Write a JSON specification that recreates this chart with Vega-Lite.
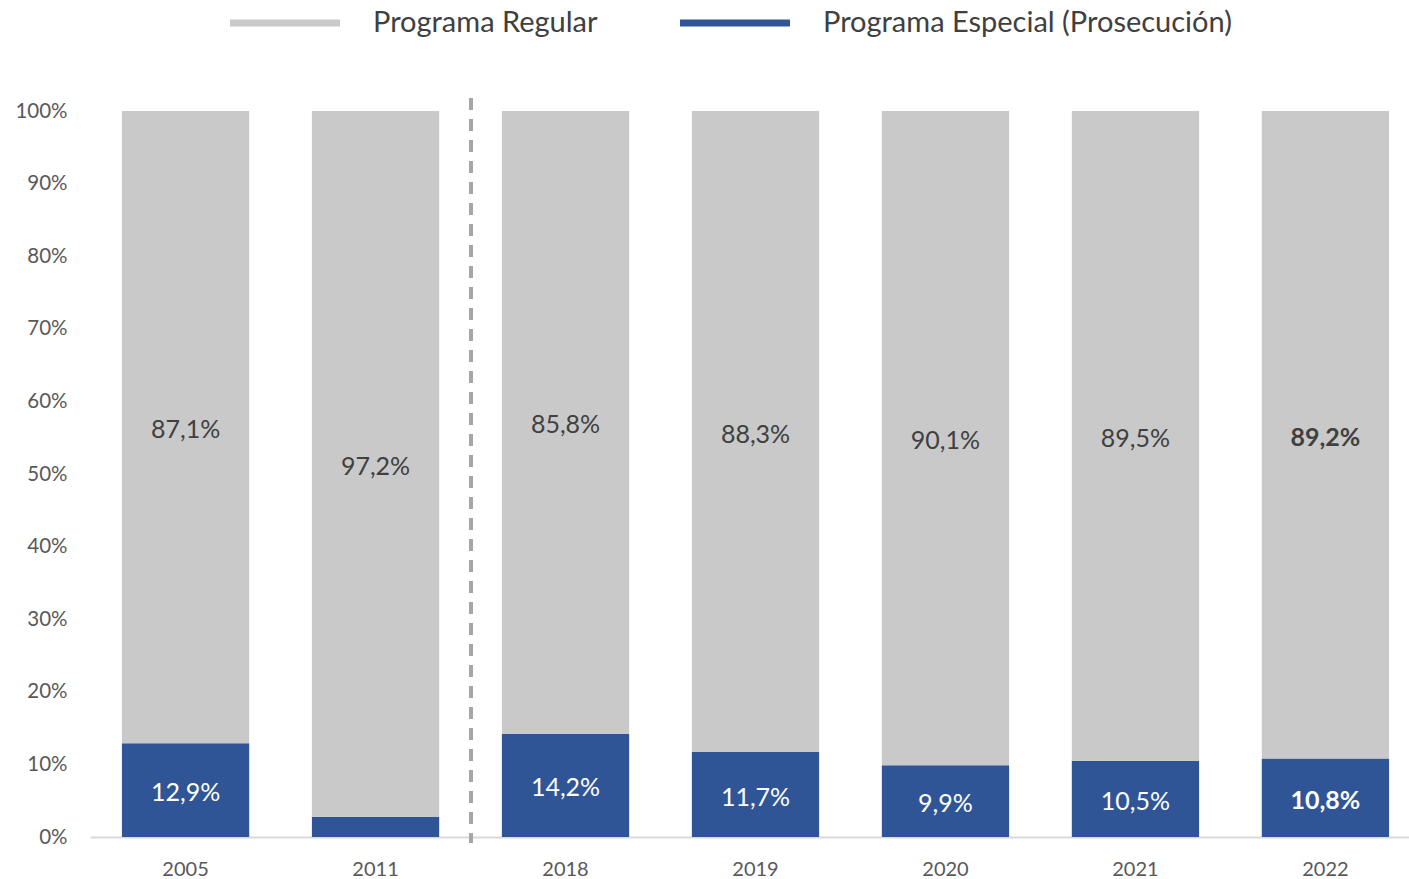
{
  "$schema": "https://vega.github.io/schema/vega-lite/v6.json",
  "width": 1319,
  "height": 726,
  "autosize": {"type": "none"},
  "padding": {"left": 90, "top": 111, "right": 0, "bottom": 42},
  "background": "white",
  "config": {
    "view": {"stroke": null},
    "font": "Lato",
    "locale": {"number": {"decimal": ",", "thousands": ".", "grouping": [3], "currency": ["", " €"]}}
  },
  "data": {
    "values": [
      {"year": "2005", "programa": "Programa Especial (Prosecución)", "orden": 1, "value": 0.129},
      {"year": "2005", "programa": "Programa Regular", "orden": 2, "value": 0.871},
      {"year": "2011", "programa": "Programa Especial (Prosecución)", "orden": 1, "value": 0.028},
      {"year": "2011", "programa": "Programa Regular", "orden": 2, "value": 0.972},
      {"year": "2018", "programa": "Programa Especial (Prosecución)", "orden": 1, "value": 0.142},
      {"year": "2018", "programa": "Programa Regular", "orden": 2, "value": 0.858},
      {"year": "2019", "programa": "Programa Especial (Prosecución)", "orden": 1, "value": 0.117},
      {"year": "2019", "programa": "Programa Regular", "orden": 2, "value": 0.883},
      {"year": "2020", "programa": "Programa Especial (Prosecución)", "orden": 1, "value": 0.099},
      {"year": "2020", "programa": "Programa Regular", "orden": 2, "value": 0.901},
      {"year": "2021", "programa": "Programa Especial (Prosecución)", "orden": 1, "value": 0.105},
      {"year": "2021", "programa": "Programa Regular", "orden": 2, "value": 0.895},
      {"year": "2022", "programa": "Programa Especial (Prosecución)", "orden": 1, "value": 0.108},
      {"year": "2022", "programa": "Programa Regular", "orden": 2, "value": 0.892}
    ]
  },
  "layer": [
    {
      "mark": {"type": "bar"},
      "encoding": {
        "x": {
          "field": "year", "type": "nominal", "title": null,
          "scale": {"paddingInner": 0.33, "paddingOuter": 0.168, "range": [0, 1331]},
          "axis": {"labelAngle": 0, "labelFontSize": 20, "labelColor": "#595959", "ticks": false, "domainColor": "#d9d9d9", "domainWidth": 2, "labelPadding": 22}
        },
        "y": {
          "field": "value", "type": "quantitative", "stack": "zero", "title": null,
          "scale": {"domain": [0, 1]},
          "axis": {"values": [0, 0.1, 0.2, 0.3, 0.4, 0.5, 0.6, 0.7, 0.8, 0.9, 1], "format": ".0%", "grid": false, "domain": false, "ticks": false, "labelFontSize": 20.5, "labelColor": "#595959", "labelPadding": 23}
        },
        "order": {"field": "orden", "type": "quantitative"},
        "color": {
          "field": "programa", "type": "nominal",
          "scale": {"domain": ["Programa Regular", "Programa Especial (Prosecución)"], "range": ["#C9C9C9", "#2F5597"]},
          "legend": {
            "title": null, "orient": "none", "direction": "horizontal", "legendX": 140, "legendY": -143, "padding": 0,
            "symbolType": "M-1,-0.065L1,-0.065L1,0.065L-1,0.065Z", "symbolSize": 12100, "symbolStrokeWidth": 0,
            "labelFontSize": 29, "labelColor": "#404040", "labelOffset": 33, "columnPadding": 82, "labelLimit": 700
          }
        }
      }
    },
    {
      "mark": {"type": "rule", "color": "#A6A6A6", "strokeWidth": 3, "strokeDash": [12, 9]},
      "encoding": {
        "x": {"datum": "2011", "type": "nominal", "bandPosition": 1.25},
        "y": {"datum": 1.018, "type": "quantitative"},
        "y2": {"datum": -0.008}
      }
    },
    {
      "transform": [
        {"stack": "value", "groupby": ["year"], "sort": [{"field": "orden"}], "as": ["v0", "v1"]},
        {"calculate": "(datum.v0 + datum.v1) / 2", "as": "mid"},
        {"filter": "datum.value > 0.05 && datum.year != '2022'"}
      ],
      "mark": {"type": "text", "fontSize": 25, "baseline": "middle", "dy": 3},
      "encoding": {
        "x": {"field": "year", "type": "nominal"},
        "y": {"field": "mid", "type": "quantitative"},
        "text": {"field": "value", "type": "quantitative", "format": ".1%"},
        "color": {"condition": {"test": "datum.orden == 1", "value": "white"}, "value": "#404040"}
      }
    },
    {
      "transform": [
        {"stack": "value", "groupby": ["year"], "sort": [{"field": "orden"}], "as": ["v0", "v1"]},
        {"calculate": "(datum.v0 + datum.v1) / 2", "as": "mid"},
        {"filter": "datum.year == '2022'"}
      ],
      "mark": {"type": "text", "fontSize": 25, "fontWeight": "bold", "baseline": "middle", "dy": 3},
      "encoding": {
        "x": {"field": "year", "type": "nominal"},
        "y": {"field": "mid", "type": "quantitative"},
        "text": {"field": "value", "type": "quantitative", "format": ".1%"},
        "color": {"condition": {"test": "datum.orden == 1", "value": "white"}, "value": "#404040"}
      }
    }
  ]
}
